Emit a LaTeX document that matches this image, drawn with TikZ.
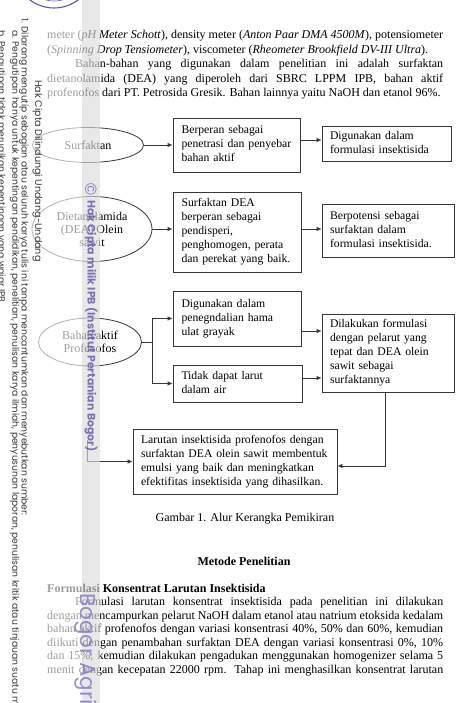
\documentclass[tikz,border=0pt]{standalone}
\usepackage{fontspec}
\setmainfont{Liberation Serif}
\newfontfamily\wmfont{Poppins}
\newfontfamily\wmsans{Liberation Sans}
\usetikzlibrary{shapes.geometric,arrows.meta,calc}
\definecolor{ln}{RGB}{55,55,55}
\definecolor{wmtext}{RGB}{55,55,55}
\definecolor{wmpurple}{RGB}{95,85,170}
\definecolor{wmlight}{RGB}{135,125,200}
\tikzset{
  box/.style={draw=ln, line width=0.8pt, inner sep=0pt, align=left, font=\fontsize{11.7}{14}\selectfont},
  oval/.style={ellipse, draw=ln, line width=0.8pt, inner sep=0pt, align=center, font=\fontsize{12}{13}\selectfont},
  arr/.style={draw=ln, line width=0.8pt, -{Latex[length=5pt,width=4.5pt]}},
  plain/.style={draw=ln, line width=0.8pt},
  txt/.style={anchor=base west, inner sep=0pt, font=\fontsize{12}{14}\selectfont},
  ctxt/.style={anchor=base, inner sep=0pt, font=\fontsize{12}{14}\selectfont},
  wm/.style={rotate=-90, anchor=base west, inner sep=0pt, text=wmtext, font=\wmfont\fontsize{9.2}{10}\selectfont},
}
\newcommand\jline[1]{\makebox[396pt][s]{#1}}
\newcommand\jlineind[1]{\makebox[368pt][s]{#1}}
\newcommand\bl[1]{\begin{tabular}{@{}l@{}}#1\end{tabular}}
\begin{document}
\begin{tikzpicture}[x=1pt,y=-1pt]
\useasboundingbox (0,0) rectangle (459,703);
\clip (0,0) rectangle (459,703);
\fill[white] (0,0) rectangle (459,703);

% ---------- top paragraph ----------
\node[txt] (t1) at (47,39) {\jline{meter (\textit{pH Meter Schott}), density meter (\textit{Anton Paar DMA 4500M}), potensiometer}};
\node[txt] (t2) at (47,53.5) {(\textit{Spinning Drop Tensiometer}), viscometer (\textit{Rheometer Brookfield DV-III Ultra}).};
\node[txt] (t3) at (75,68) {\jlineind{Bahan-bahan yang digunakan dalam penelitian ini adalah surfaktan}};
\node[txt] (t4) at (47,82.5) {\jline{dietanolamida (DEA) yang diperoleh dari SBRC LPPM IPB, bahan aktif}};
\node[txt] (t5) at (47,97) {profenofos dari PT. Petrosida Gresik. Bahan lainnya yaitu NaOH dan etanol 96\%.};

% ---------- diagram ----------
\node[oval, minimum width=111pt, minimum height=35pt] (e1) at (88,145) {Surfaktan};
\node[oval, minimum width=120pt, minimum height=65pt] (e2) at (92,229) {Dietanolamida\\(DEA) Olein\\sawit};
\node[oval, minimum width=103pt, minimum height=48pt] (e3) at (90,342) {Bahan aktif\\Profenofos};

\node[box, minimum width=127pt, minimum height=54pt, text width=110pt] (b1) at (236.5,145) {\bl{Berperan sebagai\\penetrasi dan penyebar\\bahan aktif}};
\node[box, minimum width=129pt, minimum height=35pt, text width=113pt] (b2) at (386.5,143.5) {\bl{Digunakan dalam\\formulasi insektisida}};
\node[box, minimum width=128pt, minimum height=80pt, text width=111pt] (b3) at (237,232) {\bl{Surfaktan DEA\\berperan sebagai\\pendisperi,\\penghomogen, perata\\dan perekat yang baik.}};
\node[box, minimum width=132pt, minimum height=53pt, text width=116pt] (b4) at (388,230.5) {\bl{Berpotensi sebagai\\surfaktan dalam\\formulasi insektisida.}};
\node[box, minimum width=128pt, minimum height=55pt, text width=111pt] (b5) at (237,318.5) {\bl{Digunakan dalam\\penegndalian hama\\ulat grayak}};
\node[box, minimum width=129pt, minimum height=37pt, text width=112pt] (b6) at (237.5,383.5) {\bl{Tidak dapat larut\\dalam air}};
\node[box, minimum width=132pt, minimum height=78pt, text width=116pt] (b7) at (388,353) {\bl{Dilakukan formulasi\\dengan pelarut yang\\tepat dan DEA olein\\sawit sebagai\\surfaktannya}};
\node[box, minimum width=204pt, minimum height=65pt, text width=188pt] (b8) at (235,461.5) {\bl{Larutan insektisida profenofos dengan\\surfaktan DEA olein sawit membentuk\\emulsi yang baik dan meningkatkan\\efektifitas insektisida yang dihasilkan.}};

\draw[arr] (e1.east) -- (e1.east -| b1.west);
\coordinate (o1) at ($(b1.east)+(0,-5)$);
\draw[arr] (o1) -- (o1 -| b2.west);
\draw[arr] (e2.east) -- (e2.east -| b3.west);
\coordinate (o3) at ($(b3.east)+(0,-3)$);
\draw[arr] (o3) -- (o3 -| b4.west);
\coordinate (br) at ($(e3.east)+(10.5,0)$);
\draw[plain] (e3.east) -- (br);
\draw[arr] (br) |- (b5.west);
\draw[arr] (br) |- (b6.west);
\coordinate (o5) at ($(b5.east)+(0,12.5)$);
\draw[arr] (o5) -- (o5 -| b7.west);
\coordinate (o6) at ($(b6.east)+(0,-5.5)$);
\draw[arr] (o6) -- (o6 -| b7.west);
\coordinate (o7) at ($(b7.south)+(-3,0)$);
\coordinate (i8) at ($(b8.east)+(0,4.5)$);
\draw[arr] (o7) |- (i8);
\coordinate (in8) at (87,440);
\draw[arr] (in8) |- (b8.west);

\node[ctxt] (cap) at (245,521) {Gambar 1. Alur Kerangka Pemikiran};

% ---------- bottom text ----------
\node[ctxt, font=\fontsize{12}{14}\selectfont\bfseries] (h1) at (244,565) {Metode Penelitian};
\node[txt, font=\fontsize{12}{14}\selectfont\bfseries] (h2) at (47,592) {Formulasi Konsentrat Larutan Insektisida};
\node[txt] (m1) at (75,605.5) {\jlineind{Formulasi larutan konsentrat insektisida pada penelitian ini dilakukan}};
\node[txt] (m2) at (47,619) {\jline{dengan mencampurkan pelarut NaOH dalam etanol atau natrium etoksida kedalam}};
\node[txt] (m3) at (47,632.5) {\jline{bahan aktif profenofos dengan variasi konsentrasi 40\%, 50\% dan 60\%, kemudian}};
\node[txt] (m4) at (47,646) {\jline{diikuti dengan penambahan surfaktan DEA dengan variasi konsentrasi 0\%, 10\%}};
\node[txt] (m5) at (47,659.5) {\jline{dan 15\%, kemudian dilakukan pengadukan menggunakan homogenizer selama 5}};
\node[txt] (m6) at (47,673) {\jline{menit dengan kecepatan 22000 rpm. Tahap ini menghasilkan konsentrat larutan}};

% ---------- watermark overlay ----------
\fill[white, fill opacity=0.62] (0,0) rectangle (100,703);
\fill[black, fill opacity=0.09] (82,0) rectangle (100,703);

\draw[wmpurple, line width=1.1pt] (54,-32) circle (40);
\draw[wmpurple, line width=0.6pt] (54,-32) circle (33);

\node[wm, font=\wmfont\fontsize{9.6}{10}\selectfont] (w0) at (35,80) {Hak Cipta Dilindungi Undang-Undang};
\node[wm] (w1) at (21.5,18) {1. Dilarang mengutip sebagian atau seluruh karya tulis ini tanpa mencantumkan dan menyebutkan sumber:};
\node[wm] (w2) at (12.5,30) {a. Pengutipan hanya untuk kepentingan pendidikan, penelitian, penulisan karya ilmiah, penyusunan laporan, penulisan kritik atau tinjauan suatu masalah.};
\node[wm] (w3) at (-1.5,30) {b. Pengutipan tidak merugikan kepentingan yang wajar IPB.};

\node[rotate=-90, inner sep=0pt, text=wmpurple, text opacity=0.8, font=\wmsans\fontsize{16}{16}\selectfont] (cp) at (91,189.5) {\textcopyright};
\node[wm, text=wmpurple, text opacity=0.8, font=\wmfont\bfseries\fontsize{10.9}{12}\selectfont] (w4) at (87.5,200) {Hak Cipta milik IPB (Institut Pertanian Bogor)};
\node[wm, text=wmlight, text opacity=0.85, font=\wmfont\fontsize{21.5}{22}\selectfont] (w5) at (80,593) {Bogor Agri};
\end{tikzpicture}
\end{document}
